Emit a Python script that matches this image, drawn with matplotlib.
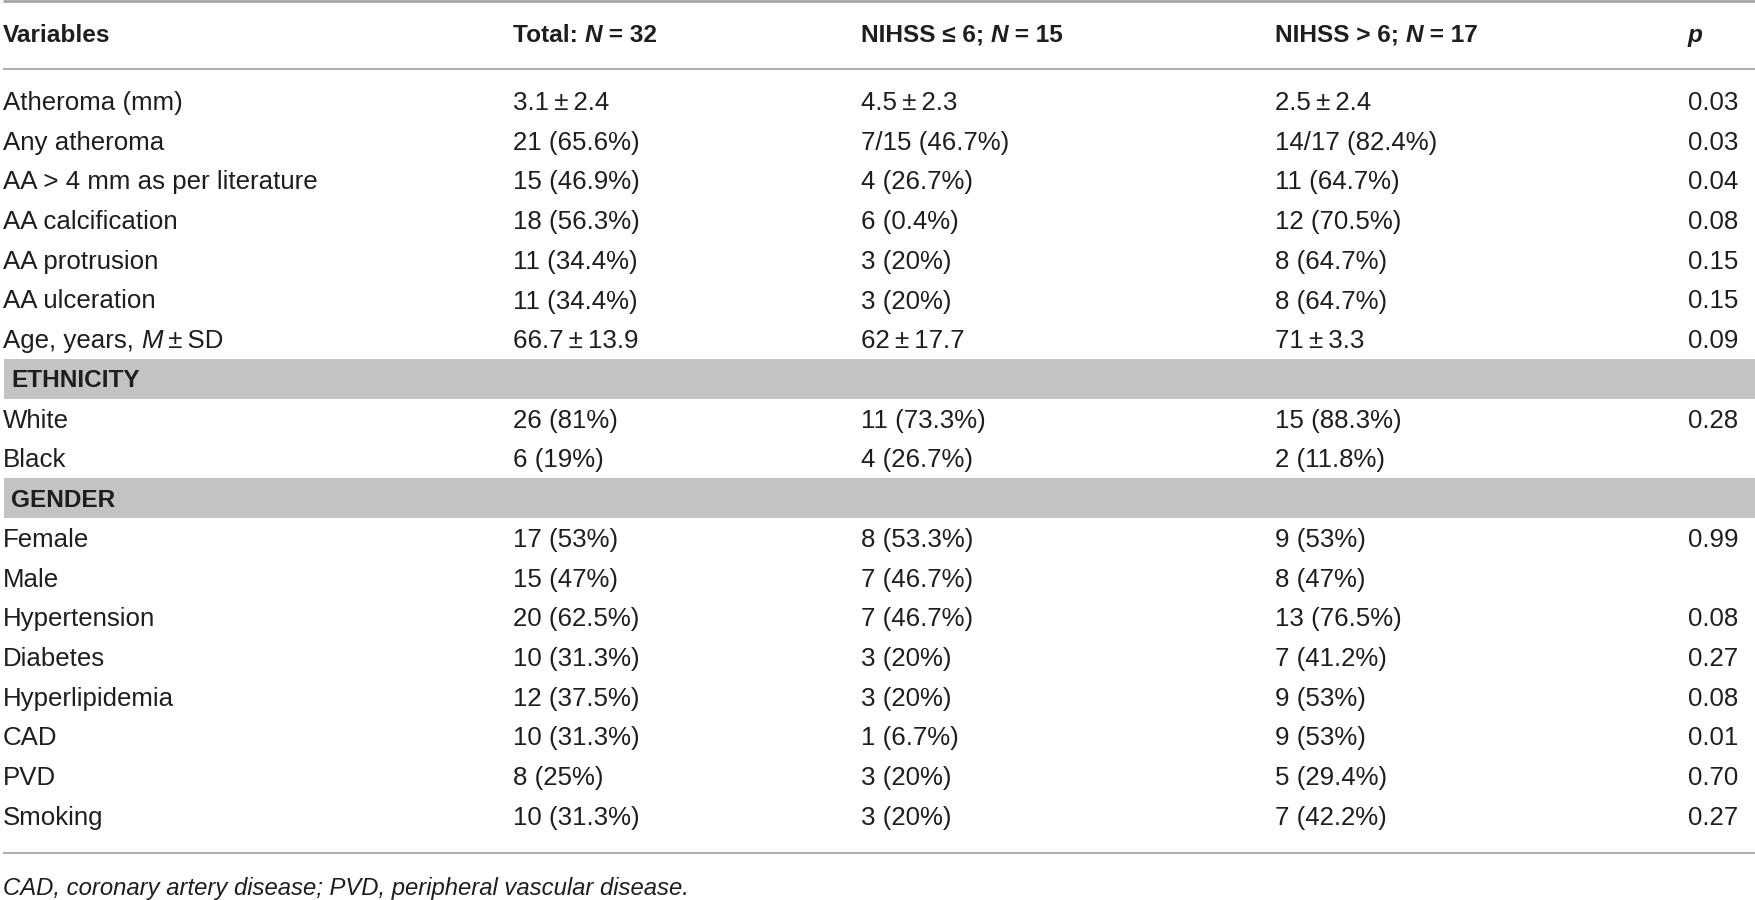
import matplotlib
matplotlib.use("Agg")
import matplotlib.pyplot as plt
from matplotlib.patches import Rectangle

FONT = ["Liberation Sans", "DejaVu Sans"]
TS = "\u2009"  # thin space

header_labels = ["Variables", "Total: *N*" + " = 32", "NIHSS ≤ 6; *N*" + " = 15",
                 "NIHSS > 6; *N*" + " = 17", "*p*"]

row_labels = ["Atheroma (mm)", "Any atheroma", "AA > 4 mm as per literature",
              "AA calcification", "AA protrusion", "AA ulceration",
              "Age, years, *M*" + f"{TS}±{TS}SD", "ETHNICITY", "White", "Black",
              "GENDER", "Female", "Male", "Hypertension", "Diabetes",
              "Hyperlipidemia", "CAD", "PVD", "Smoking"]
section_rows = ["ETHNICITY", "GENDER"]

total_vals = [f"3.1{TS}±{TS}2.4", "21 (65.6%)", "15 (46.9%)", "18 (56.3%)",
              "11 (34.4%)", "11 (34.4%)", f"66.7{TS}±{TS}13.9", "",
              "26 (81%)", "6 (19%)", "", "17 (53%)", "15 (47%)", "20 (62.5%)",
              "10 (31.3%)", "12 (37.5%)", "10 (31.3%)", "8 (25%)", "10 (31.3%)"]
low_vals = [f"4.5{TS}±{TS}2.3", "7/15 (46.7%)", "4 (26.7%)", "6 (0.4%)",
            "3 (20%)", "3 (20%)", f"62{TS}±{TS}17.7", "",
            "11 (73.3%)", "4 (26.7%)", "", "8 (53.3%)", "7 (46.7%)", "7 (46.7%)",
            "3 (20%)", "3 (20%)", "1 (6.7%)", "3 (20%)", "3 (20%)"]
high_vals = [f"2.5{TS}±{TS}2.4", "14/17 (82.4%)", "11 (64.7%)", "12 (70.5%)",
             "8 (64.7%)", "8 (64.7%)", f"71{TS}±{TS}3.3", "",
             "15 (88.3%)", "2 (11.8%)", "", "9 (53%)", "8 (47%)", "13 (76.5%)",
             "7 (41.2%)", "9 (53%)", "9 (53%)", "5 (29.4%)", "7 (42.2%)"]
p_vals = ["0.03", "0.03", "0.04", "0.08", "0.15", "0.15", "0.09", "",
          "0.28", "", "", "0.99", "", "0.08", "0.27", "0.08", "0.01", "0.70", "0.27"]

footnote = "CAD, coronary artery disease; PVD, peripheral vascular disease."

W, H = 1755, 900
fig = plt.figure(figsize=(W / 100, H / 100), dpi=100)
ax = fig.add_axes([0, 0, 1, 1])
ax.set_xlim(0, W)
ax.set_ylim(H, 0)
ax.axis("off")
renderer = fig.canvas.get_renderer()

TEXT_C = "#1e1e1e"
LINE_C = "#a6a6a6"
BAND_C = "#c3c3c3"

col_x = [3, 513, 861, 1275, 1688]
BODY_FS = 18.65
HEAD_FS = 17.6
FOOT_FS = 17.2


def draw_rich(x, y, s, fs, weight="normal", color=TEXT_C):
    """Draw text where *...* parts are italic, placed one after another."""
    parts = s.split("*")
    cx = x
    for i, part in enumerate(parts):
        if not part:
            continue
        style = "italic" if i % 2 == 1 else "normal"
        ax.text(cx, y, part, fontsize=fs, fontweight=weight, fontstyle=style,
                family=FONT, color=color, va="baseline", ha="left")
        probe = ax.text(0, 0, "|" + part + "|", fontsize=fs, fontweight=weight,
                        fontstyle=style, family=FONT)
        bar = ax.text(0, 0, "||", fontsize=fs, fontweight=weight,
                      fontstyle=style, family=FONT)
        w = probe.get_window_extent(renderer).width - bar.get_window_extent(renderer).width
        probe.remove()
        bar.remove()
        cx += w


# rules
ax.plot([3, W], [1.2, 1.2], color=LINE_C, lw=2.0, solid_capstyle="butt")
ax.plot([3, W], [69.3, 69.3], color=LINE_C, lw=1.3, solid_capstyle="butt")
ax.plot([3, W], [853.3, 853.3], color=LINE_C, lw=1.3, solid_capstyle="butt")

# header
head_base = 41.7
for x, lab in zip(col_x, header_labels):
    draw_rich(x, head_base, lab, HEAD_FS, weight="bold")

# body rows
row0_center = 101.0
row_step = 39.72
for i, lab in enumerate(row_labels):
    yc = row0_center + i * row_step
    yb = yc + 8.9
    if lab in section_rows:
        ax.add_patch(Rectangle((4, yc - 20), W - 4, 40, facecolor=BAND_C,
                               edgecolor="none", zorder=0))
        draw_rich(11, yb - 0.5, lab, HEAD_FS, weight="bold")
        continue
    draw_rich(col_x[0], yb, lab, BODY_FS)
    for x, vals in zip(col_x[1:], [total_vals, low_vals, high_vals, p_vals]):
        if vals[i]:
            draw_rich(x, yb, vals[i], BODY_FS)

# footnote
ax.text(3, 894.5, footnote, fontsize=FOOT_FS, fontstyle="italic", family=FONT,
        color=TEXT_C, va="baseline", ha="left")

fig.savefig("out.png", dpi=100)
